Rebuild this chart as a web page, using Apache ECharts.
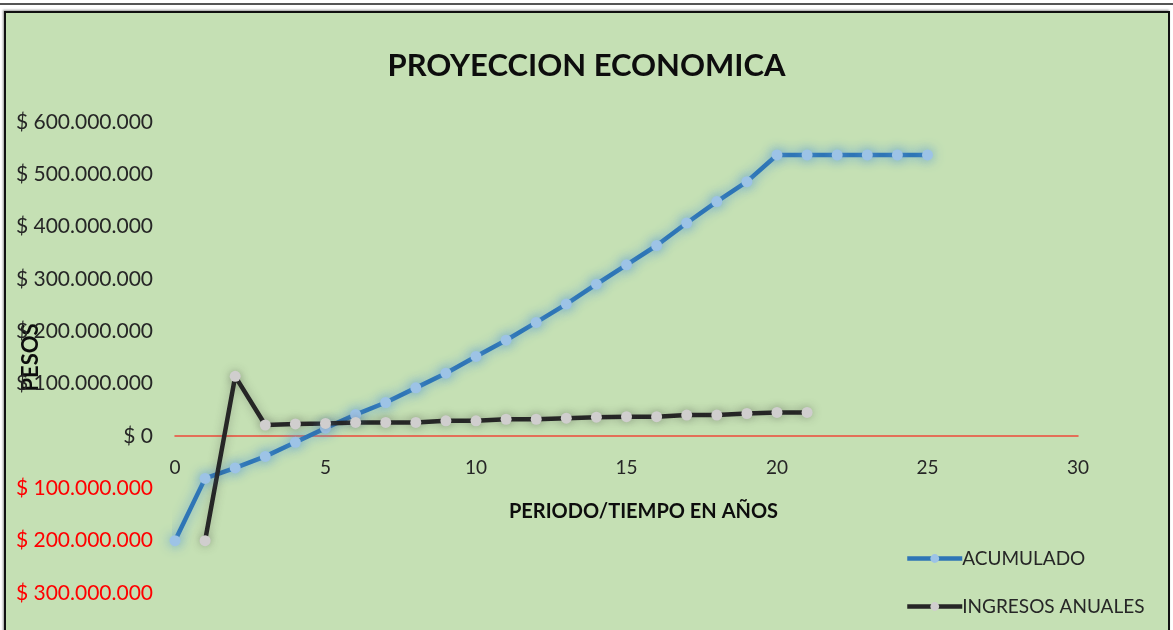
<!DOCTYPE html>
<html>
<head>
<meta charset="utf-8">
<script src="https://cdn.jsdelivr.net/npm/echarts@6/dist/echarts.min.js"></script>
<style>
  html, body { margin: 0; padding: 0; background: #fff; }
  body { width: 1173px; height: 630px; position: relative; overflow: hidden; }
  .topline { position: absolute; left: 0; top: 3px; width: 1173px; height: 2px; background: #555; }
  .frame { position: absolute; left: 4px; top: 11px; width: 1162px; height: 640px;
    background: #c5e0b4; border: 2px solid #111; box-shadow: -1px -1px 2px #999; }
  .chart { position: absolute; left: 0; top: 0; width: 1173px; height: 630px; }
</style>
</head>
<body>
<div class="topline"></div>
<div class="frame"></div>
<div class="chart"></div>
<script>
// años
const yearsAcum = [0, 1, 2, 3, 4, 5, 6, 7, 8, 9, 10, 11, 12, 13, 14, 15, 16, 17, 18, 19, 20, 21, 22, 23, 24, 25]
const yearsIngresos = [1, 2, 3, 4, 5, 6, 7, 8, 9, 10, 11, 12, 13, 14, 15, 16, 17, 18, 19, 20, 21]
// valores en millones de pesos
const acumulado = [-200, -81, -61, -39, -12, 15, 41, 64, 92, 120, 152, 183, 217, 252, 290, 327, 364, 407, 448, 486, 537, 537, 537, 537, 537, 537]
const ingresos = [-200, 114, 21, 23, 24, 26, 26, 26, 29, 29, 32, 32, 34, 36, 37, 37, 40, 40, 43, 45, 45]
const seriesNames = ['ACUMULADO', 'INGRESOS ANUALES']

const M = 1000000
const yMin = -300 * M
const yMax = 600 * M
function pairs(xs, ys) {
  return xs.map((x, i) => [x, ys[i] * M])
}

function pesos(v) {
  const n = Math.abs(Math.round(v))
  return '$ ' + String(n).replace(/\B(?=(\d{3})+(?!\d))/g, '.')
}

const gridTop = 122
const gridBottom = 37
const plotH = 630 - gridTop - gridBottom
// el eje x va sobre el cero, se sube con offset
const zeroOffset = -plotH * (0 - yMin) / (yMax - yMin)

const blueGlow = 'rgba(91,155,213,0.85)'
const greyGlow = 'rgba(60,60,60,0.35)'

const font = 'Lato, "Open Sans", sans-serif'
const mychart = echarts.init(document.querySelector('.chart'))
const option = {
  backgroundColor: 'transparent',
  textStyle: { fontFamily: font },
  title: {
    text: 'PROYECCION ECONOMICA',
    left: 'center',
    top: 45,
    textStyle: { fontFamily: font, fontSize: 31, fontWeight: 'bold', color: '#0d0d0d' }
  },
  legend: {
    data: seriesNames,
    orient: 'vertical',
    left: 900,
    top: 544,
    itemWidth: 55,
    itemHeight: 11,
    itemGap: 29,
    lineStyle: { width: 4.5, shadowBlur: 0 },
    itemStyle: { shadowBlur: 0 },
    textStyle: { fontFamily: font, fontSize: 19, color: '#262626', padding: [0, 0, 0, -5] }
  },
  grid: { left: 175, right: 95, top: gridTop, bottom: gridBottom, outerBoundsMode: 'none', containLabel: false },
  xAxis: {
    type: 'value',
    min: 0,
    max: 30,
    interval: 5,
    offset: zeroOffset,
    name: 'PERIODO/TIEMPO EN AÑOS',
    nameLocation: 'middle',
    nameGap: 66,
    nameMoveOverlap: false,
    nameTextStyle: { fontFamily: font, fontSize: 20, fontWeight: 'bold', color: '#0d0d0d', padding: [0, 0, 0, 34] },
    axisLine: { onZero: false, lineStyle: { color: '#ee4a3a', width: 1.5 } },
    axisTick: { show: false },
    splitLine: { show: false },
    axisLabel: { margin: 22, fontSize: 19, color: '#262626', fontFamily: font }
  },
  yAxis: {
    type: 'value',
    min: yMin,
    max: yMax,
    interval: 100 * M,
    name: 'PESOS',
    nameLocation: 'middle',
    nameGap: 133,
    nameMoveOverlap: false,
    nameTextStyle: { fontFamily: font, fontSize: 22, fontWeight: 'bold', color: '#0d0d0d' },
    axisLine: { show: false },
    axisTick: { show: false },
    splitLine: { show: false },
    axisLabel: {
      margin: 22,
      fontSize: 21,
      fontFamily: font,
      formatter: v => pesos(v),
      color: v => (Number(v) < 0 ? '#ff0000' : '#262626')
    }
  },
  series: [
    {
      name: seriesNames[0],
      type: 'line',
      data: pairs(yearsAcum, acumulado),
      symbol: 'circle',
      symbolSize: 11,
      lineStyle: { color: '#2e75b6', width: 4.5, shadowBlur: 12, shadowColor: blueGlow },
      itemStyle: { color: '#9dc3e6', shadowBlur: 12, shadowColor: blueGlow }
    },
    {
      name: seriesNames[1],
      type: 'line',
      data: pairs(yearsIngresos, ingresos),
      symbol: 'circle',
      symbolSize: 11,
      lineStyle: { color: '#262626', width: 4.5, shadowBlur: 10, shadowColor: greyGlow },
      itemStyle: { color: '#d0cece', shadowBlur: 10, shadowColor: greyGlow }
    }
  ]
}
mychart.setOption(option)
</script>
</body>
</html>
